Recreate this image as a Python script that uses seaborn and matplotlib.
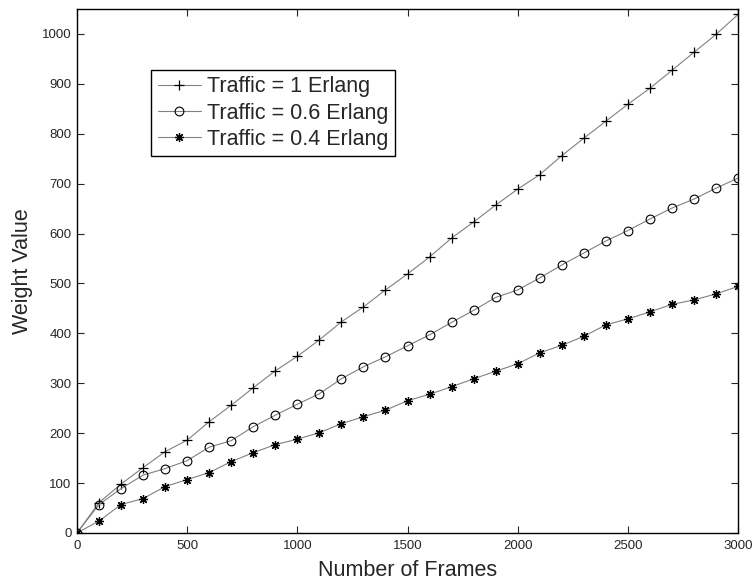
import numpy as np
import pandas as pd
import matplotlib
matplotlib.use("Agg")
import matplotlib.pyplot as plt
import seaborn as sns

# ----------------------------------------------------------
# DATA
# ----------------------------------------------------------
frames = list(range(0, 3001, 100))

traffic_1 = [0, 61, 98, 131, 163, 186, 223, 256, 291, 325, 354,
             387, 423, 453, 487, 519, 553, 591, 623, 657, 689,
             718, 756, 791, 825, 859, 891, 927, 963, 999, 1039]

traffic_06 = [0, 57, 89, 116, 129, 145, 172, 185, 213, 236, 258,
              279, 309, 333, 353, 375, 397, 422, 446, 472, 487,
              511, 537, 561, 585, 606, 629, 651, 669, 691, 711]

traffic_04 = [0, 24, 57, 69, 93, 107, 121, 143, 161, 177, 188,
              201, 219, 233, 246, 265, 278, 293, 309, 324, 339,
              361, 376, 394, 417, 429, 443, 458, 467, 479, 494]

labels = ["Traffic = 1 Erlang", "Traffic = 0.6 Erlang", "Traffic = 0.4 Erlang"]

# ----------------------------------------------------------
# STYLE
# ----------------------------------------------------------
sns.set_style("ticks")
plt.rcParams["font.family"] = ["Liberation Sans", "DejaVu Sans"]
plt.rcParams["xtick.direction"] = "in"
plt.rcParams["ytick.direction"] = "in"
plt.rcParams["xtick.top"] = True
plt.rcParams["ytick.right"] = True

LINE_COLOR = "#808080"

fig = plt.figure(figsize=(7.55, 5.83), dpi=100)
ax = fig.add_axes([0.102, 0.0858, 0.8755, 0.8988])

series = [
    (traffic_1, labels[0], dict(marker="+", markersize=7.5, mew=0.9, mfc="none")),
    (traffic_06, labels[1], dict(marker="o", markersize=6.3, mew=0.8, mfc="none")),
    (traffic_04, labels[2], dict(marker=(8, 2, 0), markersize=6.5, mew=0.9, mfc="none")),
]

for values, label, mk in series:
    df = pd.DataFrame({"frames": frames, "weight": values})
    sns.lineplot(data=df, x="frames", y="weight", ax=ax, color=LINE_COLOR,
                 linewidth=0.8, markeredgecolor="black", label=label, **mk)

ax.set_xlim(0, 3000)
ax.set_ylim(0, 1050)
ax.set_xticks(np.arange(0, 3001, 500))
ax.set_yticks(np.arange(0, 1001, 100))
ax.tick_params(axis="both", labelsize=9.5, length=5, width=0.8)
ax.tick_params(axis="x", pad=5)
ax.tick_params(axis="y", pad=4)
for s in ax.spines.values():
    s.set_linewidth(1.0)
    s.set_color("black")

ax.set_xlabel("Number of Frames", fontsize=15.5, labelpad=6)
ax.set_ylabel("Weight Value", fontsize=15.5, labelpad=6)

leg = ax.legend(loc="upper left", bbox_to_anchor=(0.112, 0.884), borderaxespad=0,
                fontsize=15.5, frameon=True, fancybox=False, framealpha=1,
                edgecolor="black", handlelength=2.0, handletextpad=0.3,
                labelspacing=0.25, borderpad=0.3)
leg.get_frame().set_linewidth(1.0)

fig.savefig("out.png", dpi=100)
